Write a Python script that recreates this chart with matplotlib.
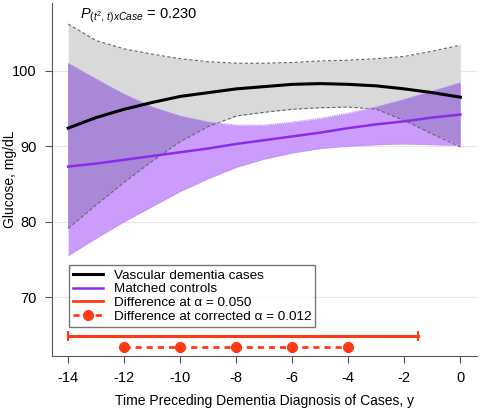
import numpy as np
import matplotlib.pyplot as plt
from matplotlib.lines import Line2D

plt.rcParams['font.family'] = ['Liberation Sans', 'DejaVu Sans']
plt.rcParams['mathtext.fontset'] = 'custom'
plt.rcParams['mathtext.rm'] = 'Liberation Sans'
plt.rcParams['mathtext.it'] = 'Liberation Sans:italic'
plt.rcParams['axes.unicode_minus'] = False

years = np.arange(-14, 1)

# vascular dementia cases: fitted glucose and 95% CI
cases = [92.4, 93.8, 94.9, 95.8, 96.6, 97.1, 97.6, 97.9, 98.2, 98.3, 98.2, 98.0, 97.6, 97.1, 96.5]
cases_hi = [106.2, 104.0, 102.9, 102.2, 101.6, 101.2, 101.0, 101.0, 101.1, 101.3, 101.4, 101.6, 101.9, 102.6, 103.4]
cases_lo = [79.1, 82.2, 85.2, 88.0, 90.6, 92.6, 94.0, 94.5, 94.9, 95.1, 95.2, 94.9, 93.4, 91.6, 89.9]

# matched controls
ctrl = [87.3, 87.7, 88.2, 88.7, 89.2, 89.7, 90.3, 90.8, 91.3, 91.8, 92.4, 92.9, 93.3, 93.8, 94.2]
ctrl_hi = [101.0, 98.9, 96.9, 95.2, 94.0, 93.2, 92.8, 92.8, 93.2, 93.7, 94.4, 95.2, 96.2, 97.3, 98.4]
ctrl_lo = [75.5, 77.8, 80.0, 82.0, 84.0, 85.7, 87.2, 88.3, 89.1, 89.7, 90.0, 90.2, 90.3, 90.2, 90.1]

# significant differences
sig_span = [-14, -1.5]
sig_corrected = [-12, -10, -8, -6, -4]
p_interaction = 0.230

grey_fill = '#d9d9d9'
purple_fill = '#cc9cfd'
overlap_fill = '#aa88d8'
purple = '#8b2be8'
red = '#ff3a14'

fig = plt.figure(figsize=(4.83, 4.11), dpi=100)
ax = fig.add_axes([0.108, 0.134, 0.88, 0.859])

ax.fill_between(years, cases_lo, cases_hi, color=grey_fill, lw=0)
ax.fill_between(years, ctrl_lo, ctrl_hi, color=purple_fill, lw=0)
lo = np.maximum(cases_lo, ctrl_lo)
hi = np.minimum(cases_hi, ctrl_hi)
ax.fill_between(years, lo, hi, where=lo < hi, interpolate=True, color=overlap_fill, lw=0)

ax.plot(years, cases_hi, ls=(0, (3, 2)), color='#666666', lw=0.8)
ax.plot(years, cases_lo, ls=(0, (3, 2)), color='#666666', lw=0.8)
ax.plot(years, ctrl_hi, ls=(0, (1, 1)), color='#b98ef0', lw=0.8)
ax.plot(years, ctrl_lo, ls=(0, (1, 1)), color='#b98ef0', lw=0.8)

ax.plot(years, cases, color='black', lw=2.2)
ax.plot(years, ctrl, color=purple, lw=1.8)

ax.plot(sig_span, [64.9, 64.9], color=red, lw=2.2, marker='|', ms=7, mew=1.5)
ax.plot(sig_corrected, [63.4] * len(sig_corrected), color=red, lw=2, ls=(0, (2.2, 1.8)),
        marker='o', ms=7)

ax.set_xlim(-14.57, 0.6)
ax.set_ylim(62.2, 109.0)
ax.set_xticks(range(-14, 1, 2))
ax.set_yticks([70, 80, 90, 100])
ax.grid(axis='y', color='#e6e6e6', lw=0.8)
ax.set_axisbelow(True)
for s in ['top', 'right']:
    ax.spines[s].set_visible(False)
for s in ['left', 'bottom']:
    ax.spines[s].set_color('#555555')
ax.tick_params(labelsize=10.5, color='#555555', length=5, pad=6)

ax.set_xlabel('Time Preceding Dementia Diagnosis of Cases, y', fontsize=10, labelpad=6)
ax.set_ylabel('Glucose, mg/dL', fontsize=10)
ax.yaxis.set_label_coords(-0.082, 0.5)

ax.text(0.066, 0.962, r'$P_{(t^2,\,t)xCase}$' + f' = {p_interaction:.3f}',
        transform=ax.transAxes, fontsize=10.5, va='center')

handles = [
    Line2D([], [], color='black', lw=2.2),
    Line2D([], [], color=purple, lw=1.8),
    Line2D([], [], color=red, lw=2),
    Line2D([], [], color=red, lw=2, ls=(0, (2.2, 1.8)), marker='o', ms=7),
]
labels = ['Vascular dementia cases', 'Matched controls',
          'Difference at \u03b1 = 0.050', 'Difference at corrected \u03b1 = 0.012']
leg = ax.legend(handles, labels, loc='lower left', bbox_to_anchor=(0.04, 0.082),
                borderaxespad=0, fontsize=9.7, frameon=True, fancybox=False,
                handlelength=2.2, labelspacing=0.1, borderpad=0.3, handletextpad=0.8)
leg.get_frame().set_edgecolor('#555555')
leg.get_frame().set_linewidth(1)

fig.savefig('out.png', dpi=100)
